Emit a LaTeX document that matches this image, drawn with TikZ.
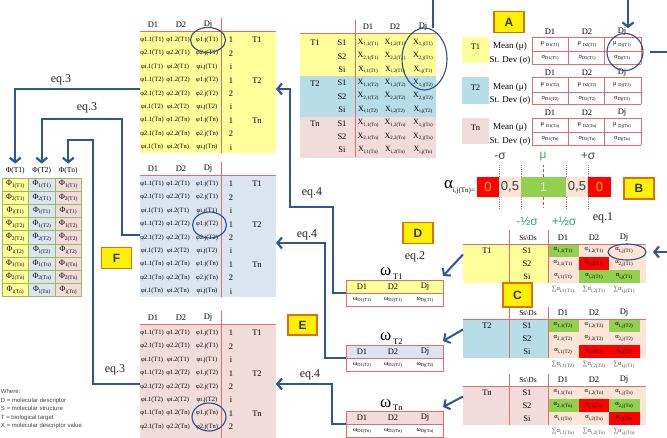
\documentclass[tikz,border=0pt]{standalone}
\usepackage{fontspec}
\setmainfont{Liberation Serif}
\newfontfamily\tagfont{Liberation Sans}
\usepackage{tikz}
\usetikzlibrary{arrows.meta,positioning,shapes.geometric}

\definecolor{yel}{HTML}{FFFF99}
\definecolor{bluA}{HTML}{DBE5F1}
\definecolor{bluB}{HTML}{B7DEE8}
\definecolor{pnk}{HTML}{F2DCDB}
\definecolor{peach}{HTML}{FCE4D6}
\definecolor{cgreen}{HTML}{92D050}
\definecolor{cred}{HTML}{FF0000}
\definecolor{redline}{HTML}{E36C6C}
\definecolor{lineblue}{HTML}{2F5597}
\definecolor{ringblue}{HTML}{2E4F7E}
\definecolor{gridgreen}{HTML}{9BBB59}
\definecolor{tagorange}{HTML}{E46C0A}
\definecolor{sgreen}{HTML}{3DAA5C}
\definecolor{hgreen}{HTML}{2FA86A}
\definecolor{sgray}{HTML}{3B4656}
\definecolor{zorange}{HTML}{FFC000}

\newcommand{\lowtxt}[2][4.5]{\raisebox{-0.45ex}{\fontsize{#1}{#1}\selectfont #2}}

\begin{document}
\begin{tikzpicture}[x=1pt, y=-1pt,
    every node/.style={inner sep=0pt, outer sep=0pt},
    phicell/.style={font=\fontsize{6.5}{7}\selectfont},
    cellsm/.style={font=\fontsize{6.5}{7}\selectfont},
    hdr/.style={font=\fontsize{8.5}{9}\selectfont},
    redrule/.style={draw=redline, line width=0.8pt},
    link/.style={draw=lineblue, line width=2.2pt},
    arrow/.style={link, -{Straight Barb[length=4.5pt, width=11pt]}},
    ring/.style={ellipse, draw=ringblue, line width=1.1pt},
    lettag/.style={rectangle, draw=tagorange, fill=yellow, line width=1.2pt, minimum width=30pt, minimum height=21pt, font=\tagfont\bfseries\fontsize{12}{12}\selectfont, text=black!80},
    eqtxt/.style={font=\fontsize{12}{12}\selectfont, text=black!85},
    barcell/.style={minimum height=20pt, font=\tagfont\fontsize{13}{13}\selectfont},
    dotline/.style={draw=black!45, densely dotted, line width=0.8pt},
    sigtxt/.style={font=\tagfont\fontsize{12}{12}\selectfont},
  ]
  \useasboundingbox (0,0) rectangle (667,438);
  \clip (0,0) rectangle (667,438);

  % phi tables
  \foreach \tb/\yo/\col in {A/0/yel, B/144/bluA, C/293/pnk}{
    \node[fill=\col, minimum width=136, minimum height=122, anchor=north west] (phi\tb) at (140,31+\yo) {};
    \draw[redrule] (140,31+\yo) -- (276,31+\yo);
    \draw[redrule] (221,18+\yo) -- (221,153+\yo);
    \foreach \dg/\x in {1/153, 2/181, j/208}
      \node[hdr] (phi\tb-D\dg) at (\x,25+\yo) {D\dg};
    \foreach \tg [count=\ti] in {1,2,n}{
      \node[hdr] (phi\tb-T\tg) at (257,{40+(\ti-1)*40.2+\yo}) {T\tg};
      \foreach \ag [count=\ai] in {1,2,i}{
        \pgfmathsetmacro\yy{40+((\ti-1)*3+\ai-1)*13.4+\yo}
        \pgfmathtruncatemacro\keep{\yy<434}
        \ifnum\keep=1
          \node[phicell] (phi\tb-\tg-\ag-1) at (152,\yy) {φ\ag.1(T\tg)};
          \node[phicell] (phi\tb-\tg-\ag-2) at (178,\yy) {φ\ag.2(T\tg)};
          \node[phicell] (phi\tb-\tg-\ag-j) at (207,\yy) {φ\ag.j(T\tg)};
          \node[hdr] (phi\tb-\tg-\ag-k) at (231,\yy) {\ag};
        \fi
      }
    }
  }
  \node[ring, minimum width=35, minimum height=25] (ringPA) at (208,40) {};
  \node[ring, minimum width=34, minimum height=26] (ringPB) at (209.5,225) {};
  \node[ring, minimum width=34, minimum height=28] (ringPC) at (209,417) {};

  % Phi result table
  \foreach \c/\tg/\col in {1/1/yel, 2/2/bluA, 3/n/pnk}{
    \pgfmathsetmacro\xx{2+(\c-1)*26.5}
    \node[font=\fontsize{7.5}{8}\selectfont] (hPhi\c) at (\xx+13.25,171) {Φ(T\tg)};
    \foreach \tr [count=\ti] in {1,2,n}{
      \foreach \ar [count=\ai] in {1,2,i}{
        \pgfmathsetmacro\yy{178+((\ti-1)*3+\ai-1)*13.2}
        \node[draw=gridgreen, line width=0.6pt, fill=\col, minimum width=26.5, minimum height=13.2, anchor=north west, font=\fontsize{8}{8}\selectfont]
          (Phi\c-\tr-\ar) at (\xx,\yy) {Φ\lowtxt[5.5]{\ar(T\tr)}};
      }
    }
  }

  % X values table
  \foreach \tg/\top/\h/\col [count=\ti] in {1/33/43.5/yel, 2/76.5/40.2/bluB, n/116.7/41/pnk}{
    \node[fill=\col, minimum width=136, minimum height=\h, anchor=north west] (xT\tg) at (300,\top) {};
    \node[hdr] (xL\tg) at (315,{43+(\ti-1)*40.2}) {T\tg};
    \foreach \ag [count=\ai] in {1,2,i}{
      \pgfmathsetmacro\yy{43+((\ti-1)*3+\ai-1)*13.4}
      \node[hdr] (xS\tg-\ag) at (342,\yy) {S\ag};
      \foreach \bg/\x in {1/368, 2/395, j/423}
        \node[font=\fontsize{8}{8}\selectfont] (xv\tg-\ag-\bg) at (\x,\yy) {X\lowtxt[5]{\ag,\bg(T\tg)}};
    }
  }
  \draw[redrule] (300,33) -- (436,33);
  \draw[redrule] (355,20) -- (355,157);
  \foreach \dg/\x in {1/368, 2/395, j/423}
    \node[hdr] (xD\dg) at (\x,27) {D\dg};
  \node[ring, minimum width=45, minimum height=62] (ringX) at (424.5,59) {};
  \coordinate (topX) at (433,0);
  \draw[link] (topX) -- (topX |- ringX.north);

  % A: means and deviations
  \foreach \tg/\g/\col in {1/37/yel, 2/77.5/bluB, n/118/pnk}{
    \node[fill=\col, minimum width=27, minimum height=26.5, anchor=north west] (aT\tg) at (462,\g) {};
    \node[hdr] (aL\tg) at (475.5,\g+10) {T\tg};
    \node[font=\fontsize{9}{9}\selectfont] (mean\tg) at (510,\g+9.5) {Mean (μ)};
    \node[font=\fontsize{9}{9}\selectfont] (sdev\tg) at (510,\g+23) {St. Dev (σ)};
    \foreach \dg/\x in {1/550, 2/587, j/622}{
      \node[hdr] (hA\tg-\dg) at (\x,\g-5) {D\dg};
      \node[cellsm] (mu\tg-\dg) at (\x,\g+7.5) {μ \lowtxt{D\dg(T\tg)}};
      \node[cellsm] (sg\tg-\dg) at (\x,\g+21) {σ\lowtxt{D\dg(T\tg)}};
    }
    \foreach \x in {532,568.3,604.7,641}
      \draw[redrule] (\x,\g) -- (\x,\g+27);
    \foreach \yy in {0,14.5,27}
      \draw[redrule] (532,\g+\yy) -- (641,\g+\yy);
  }
  \node[ring, minimum width=36, minimum height=37] (ringA) at (625,52) {};
  \coordinate (topA) at (628,0);
  \draw[arrow] (topA) -- (topA |- hA1-j.north);
  \coordinate (edgeA) at (667,52);
  \draw[link] (edgeA) -- ++(-17,0);

  % B: membership scale
  \node[barcell, fill=cred, text=zorange, minimum width=22] (bZl) at (488,187) {0};
  \node[barcell, fill=peach, text=black!75, minimum width=22, right=0pt of bZl] (bHl) {0,5};
  \node[barcell, fill=cgreen, text=white!75!cgreen, minimum width=45, right=0pt of bHl] (bOne) {1};
  \node[barcell, fill=peach, text=black!75, minimum width=22, right=0pt of bOne] (bHr) {0,5};
  \node[barcell, fill=cred, text=zorange, minimum width=23, right=0pt of bHr] (bZr) {0};
  \foreach \b in {bZl,bHl,bOne,bHr}
    \draw[dotline] (\b.north east) -- ++(0,-12) (\b.south east) -- ++(0,11);
  \draw[draw=red!80, densely dashed, line width=0.8pt] (bOne.north) -- ++(0,-12) (bOne.south) -- ++(0,11);
  \node[left=2pt of bZl, font=\fontsize{17}{17}\selectfont] (alphaT) {α\lowtxt[7]{i,j(Tn)=}};
  \node[sigtxt, text=sgray] (sgm) at (500,156) {-σ};
  \node[sigtxt, text=sgreen] (smu) at (543,156) {μ};
  \node[sigtxt, text=sgray] (sgp) at (588,156) {+σ};
  \node[sigtxt, text=hgreen] (shm) at (527,221) {-½σ};
  \node[sigtxt, text=hgreen] (shp) at (564,221) {+½σ};
  \node[eqtxt] (eq1) at (603,218) {eq.1};

  % C: alpha tables
  \foreach \tg/\L/\col in {1/244/yel, 2/319/bluB, n/386/pnk}{
    \node[fill=\col, minimum width=85, minimum height=39, anchor=north west] (cT\tg) at (463,\L) {};
    \fill[peach] (548,\L) rectangle (646,\L+39);
  }
  \foreach \L/\r/\xl/\xr/\cc in {244/0/548/579/cgreen, 244/1/579/609/cred, 244/2/579/609/cgreen, 244/2/609/640/cgreen,
      319/0/548/579/cgreen, 319/0/609/640/cgreen, 319/2/579/609/cred, 319/2/609/640/cred,
      386/1/548/579/cgreen, 386/1/579/609/cred, 386/1/609/640/cgreen, 386/2/609/640/cred}
    \fill[\cc] (\xl,\L+\r*13) rectangle (\xr,\L+\r*13+13);
  \foreach \tg/\L/\vt/\sj in {1/244/230/1, 2/319/307/1, n/386/374/n}{
    \draw[redrule] (463,\L) -- (646,\L);
    \draw[redrule] (509,\vt) -- (509,\L+39);
    \draw[redrule] (548,\vt) -- (548,\L+39);
    \node[font=\fontsize{7.5}{8}\selectfont] (cH\tg) at (528,\L-6) {Ss\textbackslash Ds};
    \node[hdr] (cLbl\tg) at (487,\L+7) {T\tg};
    \foreach \bg/\x in {1/563, 2/594, j/624}
      \node[hdr] (cD\tg-\bg) at (\x,\L-6) {D\bg};
    \node[cellsm, text=black!70] (cSum\tg-1) at (563,\L+46) {∑α\lowtxt[5]{i,1(T\tg)}};
    \node[cellsm, text=black!70] (cSum\tg-2) at (594,\L+46) {∑α\lowtxt[5]{i,2(T\tg)}};
    \node[cellsm, text=black!70] (cSum\tg-j) at (624,\L+46) {∑α\lowtxt[5]{i,j(T\sj)}};
    \foreach \ag [count=\ai] in {1,2,i}{
      \node[hdr] (cS\tg-\ag) at (527,\L-6.5+\ai*13) {S\ag};
      \foreach \bg/\x in {1/563, 2/594, j/624}
        \node[cellsm] (alf\tg-\ag-\bg) at (\x,\L-6.5+\ai*13) {α\lowtxt[5]{\ag,\bg(T\tg)}};
    }
  }
  \node[ring, minimum width=38, minimum height=16] (ringC) at (627,252) {};
  \coordinate (edgeC) at (667,252);
  \draw[arrow] (edgeC) -- ++(-14,0);

  % D: omega tables
  \foreach \tg/\top/\col in {1/280/yel, 2/345/bluA, n/411/pnk}{
    \fill[\col] (346,\top) rectangle (443,\top+13);
    \node[draw=redline, line width=0.8pt, minimum width=97, minimum height=26.5, anchor=north west] (om\tg) at (346,\top) {};
    \draw[redrule] (346,\top+13) -- (443,\top+13);
    \node[anchor=base west, font=\fontsize{17}{17}\selectfont] (omL\tg) at (380,\top-4) {ω\hspace{2pt}\lowtxt[8.5]{T\tg}};
    \foreach \dg/\x in {1/362, 2/393, j/425}{
      \node[hdr] (omD\tg-\dg) at (\x,\top+6.5) {D\dg};
      \node[cellsm] (omV\tg-\dg) at (\x,\top+20) {ω\lowtxt{D\dg(T\tg)}};
    }
    \draw[arrow, line width=2pt] ([yshift=9]cT\tg.west) -- ([yshift=4]om\tg.north east);
  }
  \node[eqtxt] (eq2) at (415,257) {eq.2};

  % eq.4 back to phi tables
  \draw[arrow] (om1.west) -| (333,207) -| (290,89) -- (phiA.east |- 0,89);
  \draw[arrow] (om2.west) -| (325,243) -- (phiB.east |- 0,243);
  \draw[arrow] (omn.west) -| (332,384) -- (phiC.east |- 0,384);
  \node[eqtxt] (eq4a) at (312,193) {eq.4};
  \node[eqtxt] (eq4b) at (307,235) {eq.4};
  \node[eqtxt] (eq4c) at (310,375) {eq.4};

  % eq.3 to Phi
  \draw[arrow, shorten >=4pt] (phiA.west |- 0,89) -| (hPhi1);
  \draw[arrow, shorten >=4pt] (phiB.west |- 0,235) -| (122,119) -| (hPhi2);
  \draw[arrow, shorten >=4pt] (phiC.west |- 0,384) -| (93,140) -| (hPhi3);
  \node[eqtxt] (eq3a) at (61,80) {eq.3};
  \node[eqtxt] (eq3b) at (87,108) {eq.3};
  \node[eqtxt] (eq3c) at (115,370) {eq.3};

  % tags
  \node[lettag] (tagA) at (509,22) {A};
  \node[lettag] (tagB) at (639,188.5) {B};
  \node[lettag, minimum width=29, minimum height=24] (tagC) at (517.5,295) {C};
  \node[lettag] (tagD) at (418,233) {D};
  \node[lettag, minimum width=29, minimum height=20] (tagE) at (302.5,325) {E};
  \node[lettag] (tagF) at (116.5,258) {F};

  \node[anchor=north west, align=left, font=\tagfont\fontsize{6}{8.4}\selectfont, text=black!75] (legend) at (1,389.5)
    {Where:\\D = molecular descriptor\\S = molecular structure\\T = biological target\\X = molecular descriptor value};
\end{tikzpicture}
\end{document}
